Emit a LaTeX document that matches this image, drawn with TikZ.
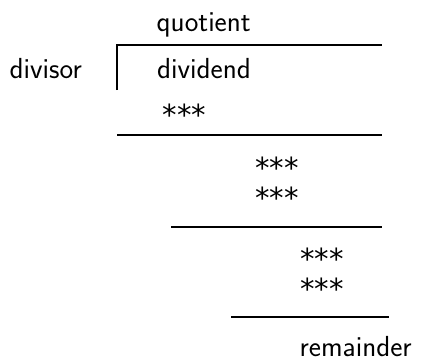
\documentclass[tikz,border=0pt]{standalone}
\usepackage{fontspec}
\newfontfamily\starfont{DejaVu Sans}
\begin{document}
\begin{tikzpicture}[x=1bp,y=-1bp,
  lbl/.style={anchor=base west,inner sep=0pt,font=\fontsize{29bp}{35bp}\sffamily},
  stars/.style={anchor=base west,inner sep=0pt,font=\fontsize{29bp}{35bp}\starfont},
  rule/.style={line width=2bp}]
\useasboundingbox (0,0) rectangle (421,360);
% labels of the long division
\node[lbl] (quot) at (156.5,31) {quotient};
\node[lbl] (divr) at (9.5,78) {divisor};
\node[lbl] (divd) at (157,78) {dividend};
\node[stars] (s1) at (162.8,125.6) {***};
\node[stars] (s2) at (254.8,178.6) {***};
\node[stars] (s3) at (254.8,208.1) {***};
\node[stars] (s4) at (299.8,269.1) {***};
\node[stars] (s5) at (299.8,299.1) {***};
\node[lbl] (rem) at (299.5,356) {remainder};
% bracket and subtraction bars
\draw[rule] (117,90) -- (117,45) -- (382,45);
\draw[rule] (117,135) -- (382,135);
\draw[rule] (171,227) -- (382,227);
\draw[rule] (231,317) -- (389,317);
\end{tikzpicture}
\end{document}
